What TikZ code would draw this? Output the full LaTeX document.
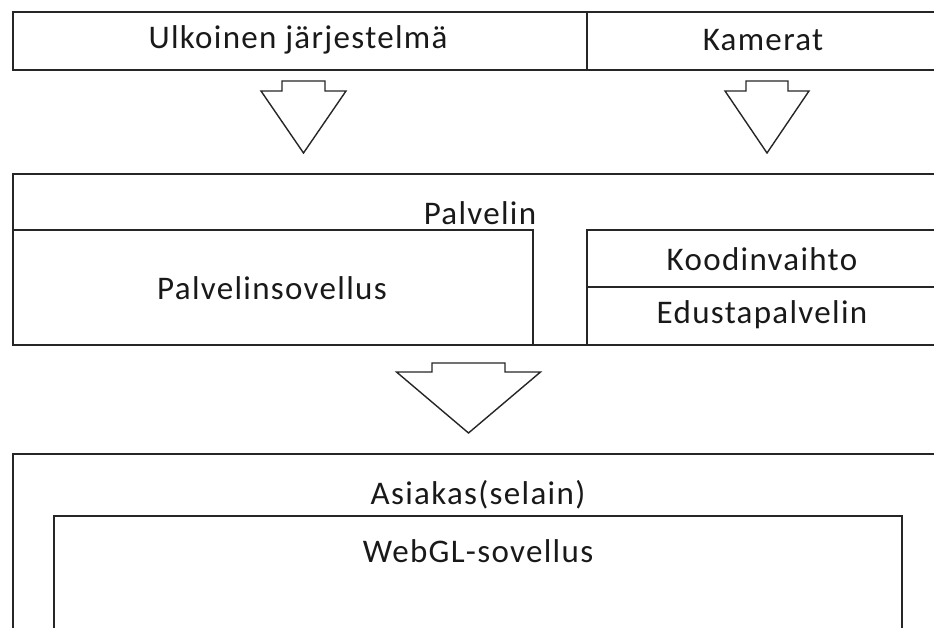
\documentclass[tikz,border=0pt]{standalone}
\usepackage{fontspec}
\setmainfont[LetterSpace=4]{Carlito}
\begin{document}
\begin{tikzpicture}[x=1pt,y=-1pt,
  box/.style={draw=black!85, line width=1.6pt, rectangle, inner sep=0pt, anchor=north west},
  lbl/.style={font=\fontsize{33}{33}\selectfont, text=black!90, inner sep=0pt},
  pics/blockarrow/.style args={#1/#2/#3/#4}{% shaft half-width / base half-width / shaft height / total height
    code={\draw[draw=black!85, line width=1.4pt, fill=white, line join=miter]
      (-#1,0) -- (#1,0) -- (#1,#3) -- (#2,#3) -- (0,#4) -- (-#2,#3) -- (-#1,#3) -- cycle;}}]
\useasboundingbox (0,0) rectangle (934,628);
\clip (0,0) rectangle (934,628);

% sources
\node[box, minimum width=574pt, minimum height=58pt] (ext) at (12,11) {};
\node[box, minimum width=360pt, minimum height=58pt] (cam) at (586,11) {};
\node[lbl] (extl) at (298,40) {Ulkoinen järjestelmä};
\node[lbl] (caml) at (763,40) {Kamerat};

% arrows into the server
\pic at (303.5,81) {blockarrow=21.5/42.5/10/72};
\pic at (767,81) {blockarrow=21/42/10/72};

% server
\node[box, minimum width=934pt, minimum height=171pt] (srv) at (12,173) {};
\node[lbl] (srvl) at (480,213) {Palvelin};
\node[box, minimum width=520pt, minimum height=115pt] (app) at (12,229) {};
\node[lbl] (appl) at (272,288) {Palvelinsovellus};
\node[box, minimum width=360pt, minimum height=57pt] (trans) at (586,229) {};
\node[box, minimum width=360pt, minimum height=58pt] (proxy) at (586,286) {};
\node[lbl] (transl) at (762,259) {Koodinvaihto};
\node[lbl] (proxyl) at (762,315) {Edustapalvelin};

% arrow to the client
\pic at (468.5,363) {blockarrow=36.5/72/9/70};

% client
\node[box, minimum width=934pt, minimum height=200pt] (cli) at (12,453) {};
\node[lbl] (clil) at (478,495) {Asiakas(selain)};
\node[box, minimum width=848pt, minimum height=140pt] (webgl) at (53,515) {};
\node[lbl] (webgll) at (478,551) {WebGL-sovellus};
\end{tikzpicture}
\end{document}
